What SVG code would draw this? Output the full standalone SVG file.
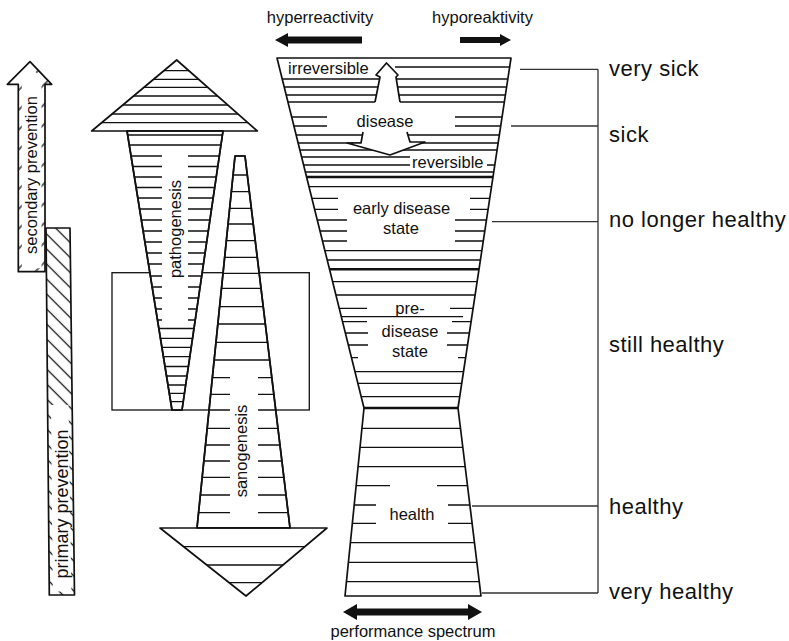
<svg xmlns="http://www.w3.org/2000/svg" width="789" height="641" viewBox="0 0 789 641">
<style>
.ln{stroke:#111;stroke-width:1.3;fill:none}
.th{stroke:#111;stroke-width:2.6;fill:none}
.ol{stroke:#111;stroke-width:1.7;fill:#fff;stroke-linejoin:round}
.olh{stroke:#111;stroke-width:1.7;stroke-linejoin:round}
.t{font-family:"Liberation Sans",Arial,sans-serif;font-size:16.5px;fill:#111}
.r{font-family:"Liberation Sans",Arial,sans-serif;font-size:22px;letter-spacing:0.5px;fill:#111}
.br{stroke:#333;stroke-width:1.3;fill:none}
.blk{fill:#111;stroke:none}
</style>
<defs>
<pattern id="hB" patternUnits="userSpaceOnUse" width="10.6" height="10" patternTransform="rotate(-45)"><line x1="5.3" y1="-1" x2="5.3" y2="11" stroke="#111" stroke-width="1.3"/></pattern>
<pattern id="hF" patternUnits="userSpaceOnUse" width="14" height="10" patternTransform="rotate(45)"><line x1="7" y1="-1" x2="7" y2="11" stroke="#111" stroke-width="1.3"/></pattern>
<clipPath id="cHG"><polygon points="277,58 511,58 458,408 481,596 345,596 364,408"/></clipPath>
<clipPath id="cPH"><polygon points="176.7,60 257.3,131 91.7,131"/></clipPath>
<clipPath id="cPS"><polygon points="127,131 223,131 182,410 172,410"/></clipPath>
<clipPath id="cSS"><polygon points="235,156 245,156 290,528 197,528"/></clipPath>
<clipPath id="cSH"><polygon points="160,528 327,528 246,596"/></clipPath>
</defs>
<rect x="0" y="0" width="789" height="641" fill="#fff"/>

<g id="top-labels">
<text class="t" x="320" y="23" text-anchor="middle">hyperreactivity</text>
<text class="t" x="482.5" y="23" text-anchor="middle">hyporeaktivity</text>
<polygon class="blk" points="275,40 288,33 288,36.5 362,36.5 362,43.5 288,43.5 288,47"/>
<polygon class="blk" points="511,40 500,34 500,37 460,37 460,43 500,43 500,46"/>
</g>

<g id="secondary-prevention">
<polygon points="30,61.7 51.7,84.3 45,84.3 45,271.7 18.3,271.7 18.3,84.3 7.3,84.3" fill="url(#hF)"/>
<polygon points="30,66.6 44.2,80.8 41.5,80.8 41.5,268.2 21.8,268.2 21.8,80.8 15.8,80.8" fill="#fff"/>
<polygon class="olh" fill="none" points="30,61.7 51.7,84.3 45,84.3 45,271.7 18.3,271.7 18.3,84.3 7.3,84.3"/>
<text class="t" transform="translate(31,175) rotate(-90)" x="0" y="5.5" text-anchor="middle">secondary prevention</text>
</g>

<g id="primary-prevention">
<polygon points="46,228 70,228 74.5,595 49.3,595" fill="url(#hB)"/>
<polygon points="51,405 68.5,405 71.4,591.5 52.8,591.5" fill="#fff"/>
<polygon class="olh" fill="none" points="46,228 70,228 74.5,595 49.3,595"/>
<text class="t" style="font-size:18px" transform="translate(62,504) rotate(-90)" x="0" y="6.3" text-anchor="middle">primary prevention</text>
</g>

<g id="frame">
<rect class="ln" x="112" y="272.7" width="197.3" height="137.3"/>
</g>

<g id="pathogenesis">
<polygon class="ol" points="176.7,60 257.3,131 91.7,131"/>
<polygon class="ol" points="127,131 223,131 182,410 172,410"/>
<path class="ln" clip-path="url(#cPH)" d="M80,70.7H270M80,79.3H270M80,87.3H270M80,96H270M80,105H270M80,114H270M80,122.7H270"/>
<path class="ln" clip-path="url(#cPS)" d="M120,135H230M120,145H230
M120,156H162M188,156H230M120,166.5H162M188,166.5H230M120,177H162M188,177H230M120,187.5H162M188,187.5H230
M120,198H162M188,198H230M120,209H162M188,209H230M120,220H162M188,220H230M120,231H162M188,231H230
M120,242H162M188,242H230M120,253H162M188,253H230M120,264H162M188,264H230M120,276H162M188,276H230
M120,287H162M188,287H230M120,298H162M188,298H230M120,309H162M188,309H230M120,320H162M188,320H230
M120,328.5H230M120,338.3H230M120,347.3H230M120,356.7H230M120,366.5H230M120,376H230M120,385H230M120,393.3H230M120,401.7H230"/>
<polygon class="olh" fill="none" points="127,131 223,131 182,410 172,410"/>
<text class="t" transform="translate(175,229) rotate(-90)" x="0" y="5.5" text-anchor="middle">pathogenesis</text>
</g>

<g id="sanogenesis">
<polygon class="ol" points="235,156 245,156 290,528 197,528"/>
<polygon class="ol" points="160,528 327,528 246,596"/>
<path class="ln" clip-path="url(#cSS)" d="M190,175H300M190,191.7H300M190,208.3H300M190,224H300M190,240.7H300M190,257.3H300M190,273.3H300M190,288.3H300M190,306.7H300M190,324H300M190,342.3H300M190,360H300
M190,377.7H230M258,377.7H300M190,394.3H230M258,394.3H300M190,410H230M258,410H300M190,428.3H230M258,428.3H300M190,445H230M258,445H300
M190,461H230M258,461H300M190,477.3H230M258,477.3H300M190,495H230M258,495H300M190,512.7H230M258,512.7H300"/>
<path class="ln" clip-path="url(#cSH)" d="M150,546.7H340M150,565H340M150,582.7H340"/>
<polygon class="olh" fill="none" points="235,156 245,156 290,528 197,528"/>
<text class="t" transform="translate(241,451) rotate(-90)" x="0" y="5.7" text-anchor="middle">sanogenesis</text>
</g>

<g id="hourglass">
<polygon points="277,58 511,58 458,408 481,596 345,596 364,408" fill="#fff"/>
<g clip-path="url(#cHG)">
<path class="ln" d="M395,67H520M270,79H520M270,87H520M270,95H520M270,102H375M400,102H520
M270,117H327M455,117H520M270,126H327M455,126H520M270,135H520M270,143H520M270,150H520
M270,157H410M270,165H410M487,165H520M270,172H520M270,186.7H520
M270,198.3H338M470,198.3H520M270,209.3H338M470,209.3H520M270,220H347M455,220H520M270,231H347M455,231H520M270,241H347M455,241H520
M270,250.7H520M270,260H520M270,281.7H520M270,295H520
M270,308.3H367M450,308.3H520M270,316.7H463M270,321.7H367M452,321.7H520M270,333H368M447,333H520M270,345H368M447,345H520M270,357.7H358M458,357.7H520
M270,371.7H520M270,383.3H520M270,396.7H520
M270,428.3H520M270,447.3H520M270,466.7H520M270,485.7H390M437,485.7H520M270,505H376M448,505H520M270,523.3H376M448,523.3H520
M270,542.7H520M270,562.3H520M270,581.7H520"/>
<path class="th" d="M270,177H520M270,269.3H520M270,408H520"/>
</g>
<polygon class="olh" fill="none" stroke-width="2" points="277,58 511,58 458,408 481,596 345,596 364,408"/>
<path class="ol" d="M375,102L380,77L376,75L386.5,63L398,75L396,77L400,102"/>
<path class="ol" d="M363,132L361,143L347,143L390,155L425,142L410,142L407,132"/>
<text class="t" x="288" y="74">irreversible</text>
<text class="t" x="385" y="126.5" text-anchor="middle">disease</text>
<text class="t" x="412" y="168">reversible</text>
<text class="t" x="401.5" y="214" text-anchor="middle">early disease</text>
<text class="t" x="401" y="233.5" text-anchor="middle">state</text>
<text class="t" x="410" y="314" text-anchor="middle">pre-</text>
<text class="t" x="410" y="336.7" text-anchor="middle">disease</text>
<text class="t" x="410" y="356.7" text-anchor="middle">state</text>
<text class="t" x="412" y="520" text-anchor="middle">health</text>
</g>

<g id="performance-spectrum">
<polygon class="blk" points="343,612 357,604 357,608.5 468,608.5 468,604 482,612 468,620 468,615.5 357,615.5 357,620"/>
<text class="t" x="413" y="636.5" text-anchor="middle">performance spectrum</text>
</g>

<g id="connectors">
<path class="br" d="M520,69.3H598M511,126H598M492,221.7H598M472,506H598M482,593H598M598,69.3V593"/>
</g>

<g id="scale-labels">
<text class="r" x="609" y="75.5">very sick</text>
<text class="r" x="609" y="141.5">sick</text>
<text class="r" x="609" y="226.7">no longer healthy</text>
<text class="r" x="609" y="352.3">still healthy</text>
<text class="r" x="609" y="514">healthy</text>
<text class="r" x="609" y="599.3">very healthy</text>
</g>
</svg>
